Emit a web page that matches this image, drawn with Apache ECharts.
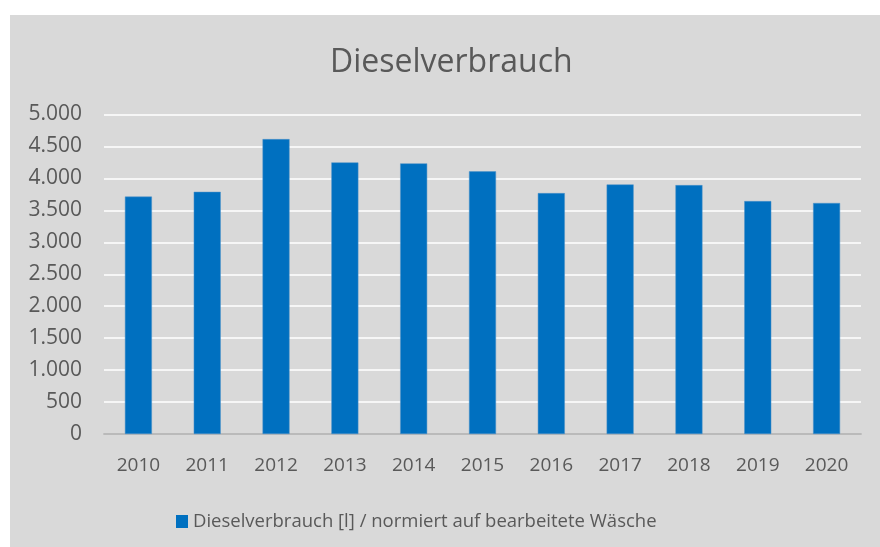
<!DOCTYPE html>
<html>
<head>
<meta charset="utf-8">
<script src="https://cdn.jsdelivr.net/npm/echarts@6/dist/echarts.min.js"></script>
<style>
  html, body { margin: 0; padding: 0; background: #fff; }
  #chart { position: absolute; left: 10px; top: 15px; width: 870px; height: 532px; }
</style>
</head>
<body>
<div id="chart"></div>
<script>
// Werte
const years = ['2010', '2011', '2012', '2013', '2014', '2015', '2016', '2017', '2018', '2019', '2020']
const diesel = [3715, 3790, 4615, 4250, 4235, 4110, 3770, 3905, 3895, 3645, 3615]
const seriesName = 'Dieselverbrauch [l] / normiert auf bearbeitete Wäsche'

const font = 'Open Sans'
const textColor = '#595959'

const chart = echarts.init(document.getElementById('chart'))

const option = {
  backgroundColor: '#d9d9d9',
  animation: false,
  title: {
    text: 'Dieselverbrauch',
    left: 315,
    top: 27,
    textStyle: {
      fontFamily: font,
      fontSize: 32,
      fontWeight: 'normal',
      color: textColor
    }
  },
  legend: {
    data: [seriesName],
    left: 161,
    top: 492,
    itemWidth: 12,
    itemHeight: 13,
    icon: 'rect',
    itemStyle: { borderWidth: 0 },
    textStyle: {
      fontFamily: font,
      fontSize: 18.5,
      color: textColor
    }
  },
  grid: {
    left: 94,
    right: 19,
    top: 99.5,
    bottom: 113
  },
  xAxis: {
    type: 'category',
    data: years,
    axisTick: { show: false },
    axisLine: { lineStyle: { color: '#a6a6a6', width: 1.5 } },
    axisLabel: {
      margin: 22,
      fontFamily: font,
      fontSize: 19,
      color: textColor
    }
  },
  yAxis: {
    type: 'value',
    min: 0,
    max: 5000,
    interval: 500,
    axisLine: { show: false },
    axisTick: { show: false },
    splitLine: { lineStyle: { color: '#ffffff', width: 1.5 } },
    axisLabel: {
      margin: 22,
      fontFamily: font,
      fontSize: 21,
      color: textColor,
      formatter: v => v.toLocaleString('de-DE')
    }
  },
  series: [
    {
      name: seriesName,
      type: 'bar',
      data: diesel,
      barWidth: 27,
      itemStyle: {
        color: '#0070c0',
        borderColor: '#4f93c8',
        borderWidth: 0.5
      }
    }
  ]
}

chart.setOption(option)
</script>
</body>
</html>
